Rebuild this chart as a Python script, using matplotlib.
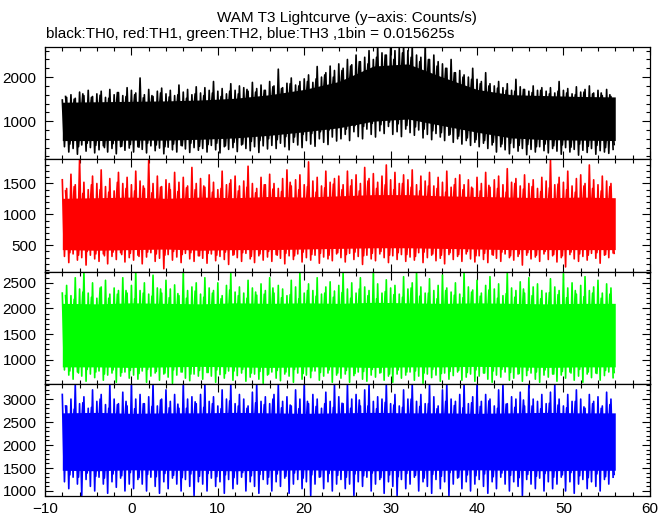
import numpy as np
import matplotlib.pyplot as plt
from matplotlib.ticker import MultipleLocator

plt.rcParams['font.family'] = ['Liberation Sans', 'DejaVu Sans']

# time grids of the read values
t_spk = np.arange(-8, 56, 0.5)   # tallest spikes, every 0.5 s
t_mid = np.arange(-8, 56, 1.0)   # shorter spikes, every 1 s
t_core = np.arange(-8, 57, 4)    # solid band, every 4 s

# TH0 (black)
th0_hi = [1480, 1540, 1600, 1520, 1660, 1580, 1700, 1560, 1620, 1680, 1540, 1720, 1600, 1650, 1580, 1760,
          1700, 1640, 1980, 1600, 1720, 1560, 1680, 1750, 1620, 1700, 1580, 1820, 1660, 1720, 1600, 1780,
          1640, 1760, 1700, 1900, 1680, 1740, 1620, 1850, 1700, 1800, 1760, 1680, 1880, 1740, 1820, 1700,
          1900, 1800, 2180, 1760, 1860, 1980, 1820, 1900, 1960, 2050, 1880, 2240, 2000, 2100, 2250, 2150,
          2300, 2200, 2400, 2280, 2500, 2350, 2450, 2600, 2400, 2700, 2550, 2500, 2700, 2600, 2650, 2700,
          2600, 2700, 2500, 2450, 2700, 2400, 2500, 2350, 2300, 2200, 2400, 2100, 2150, 2050, 2000, 2200,
          1950, 1900, 2100, 1850, 1800, 1900, 1760, 1850, 1700, 1950, 1780, 1720, 1680, 1800, 1700, 1760,
          1680, 1760, 1640, 1900, 1700, 1740, 1620, 1780, 1660, 1720, 1800, 1640, 1700, 1580, 1720, 1560]
th0_lo = [420, 300, 380, 250, 460, 320, 400, 280, 350, 440, 300, 380, 260, 420, 340, 390,
          300, 420, 360, 280, 440, 330, 390, 260, 410, 350, 300, 450, 370, 290, 400, 340,
          380, 300, 450, 350, 280, 420, 360, 400, 310, 460, 380, 330, 420, 290, 440, 370,
          450, 380, 500, 420, 350, 520, 460, 400, 560, 480, 430, 600, 520, 470, 640, 550,
          600, 700, 560, 760, 650, 600, 820, 700, 640, 780, 720, 880, 700, 760, 650, 820,
          740, 680, 800, 620, 700, 580, 720, 640, 560, 680, 520, 600, 480, 560, 450, 520,
          420, 500, 380, 460, 300, 420, 350, 260, 400, 320, 380, 240, 360, 300, 420, 330,
          280, 380, 320, 250, 400, 300, 360, 230, 340, 290, 380, 250, 330, 300, 270, 360]
th0_mhi = [1560, 1500, 1620, 1540, 1590, 1520, 1650, 1560, 1600, 1530, 1580, 1640, 1550, 1600, 1520, 1620,
           1580, 1640, 1560, 1680, 1620, 1720, 1660, 1700, 1780, 1740, 1850, 1800, 1900, 1960, 2050, 2000,
           2150, 2250, 2350, 2300, 2450, 2500, 2400, 2550, 2450, 2350, 2400, 2250, 2200, 2100, 2000, 1950,
           1850, 1800, 1750, 1700, 1680, 1720, 1650, 1700, 1620, 1680, 1640, 1600, 1660, 1620, 1640, 1600]
th0_mlo = [480, 420, 500, 450, 400, 490, 430, 470, 410, 500, 460, 420, 480, 440, 500, 430,
           470, 500, 440, 520, 480, 540, 560, 600, 580, 650, 640, 700, 720, 760, 800, 860,
           820, 900, 880, 950, 920, 980, 940, 900, 870, 820, 780, 740, 700, 660, 620, 580,
           560, 520, 480, 500, 450, 470, 420, 480, 440, 460, 410, 480, 430, 450, 400, 470]
th0_core_hi = [1430, 1440, 1450, 1460, 1480, 1520, 1600, 1720, 1900, 2250, 2300, 2000, 1720, 1600, 1580, 1560, 1550]
th0_core_lo = [560, 560, 570, 570, 590, 620, 680, 760, 850, 1000, 1050, 900, 750, 620, 580, 570, 560]

# TH1 (red)
th1_hi = [1560, 1420, 1650, 1480, 1900, 1520, 1400, 1620, 1500, 1720, 1450, 1580, 1380, 1680, 1500, 1600,
          1480, 1700, 1540, 1420, 1880, 1500, 1620, 1450, 1560, 1400, 1680, 1520, 1600, 1460, 1760, 1500,
          1580, 1440, 1640, 1520, 1400, 1700, 1480, 1560, 1620, 1460, 1540, 1780, 1500, 1420, 1600, 1480,
          1650, 1500, 1420, 1580, 1720, 1460, 1560, 1640, 1480, 1850, 1540, 1600, 1460, 1700, 1520, 1580,
          1620, 1480, 1700, 1560, 1640, 1500, 1760, 1580, 1660, 1520, 1620, 1800, 1560, 1680, 1500, 1640,
          1560, 1720, 1480, 1620, 1540, 1680, 1460, 1600, 1520, 1700, 1440, 1580, 1640, 1480, 1560, 1420,
          1600, 1500, 1680, 1440, 1560, 1620, 1480, 1740, 1520, 1580, 1460, 1640, 1500, 1560, 1420, 1600,
          1540, 1880, 1480, 1600, 1520, 1700, 1460, 1580, 1640, 1500, 1800, 1560, 1480, 1620, 1540, 1500]
th1_lo = [320, 220, 360, 260, 300, 180, 340, 280, 240, 360, 200, 320, 270, 380, 230, 300,
          260, 340, 200, 310, 380, 240, 290, 120, 350, 260, 310, 220, 370, 280, 240, 330,
          290, 210, 360, 250, 320, 270, 190, 340, 300, 240, 370, 280, 220, 330, 260, 310,
          240, 350, 290, 200, 330, 270, 360, 230, 300, 260, 340, 210, 310, 280, 250, 360,
          300, 230, 370, 270, 320, 190, 340, 280, 250, 360, 300, 220, 330, 270, 350, 240,
          310, 260, 380, 220, 300, 340, 250, 290, 200, 350, 270, 320, 240, 360, 280, 230,
          330, 270, 220, 350, 290, 240, 360, 300, 260, 320, 180, 340, 280, 310, 240, 360,
          270, 330, 230, 300, 150, 350, 280, 240, 320, 260, 370, 290, 210, 340, 300, 380]
th1_mhi = [1380, 1450, 1340, 1480, 1400, 1360, 1520, 1420, 1380, 1460, 1350, 1440, 1500, 1370, 1430, 1400,
           1460, 1360, 1420, 1500, 1380, 1440, 1350, 1480, 1410, 1370, 1520, 1400, 1450, 1360, 1430, 1490,
           1400, 1460, 1380, 1540, 1420, 1480, 1400, 1500, 1440, 1380, 1460, 1420, 1360, 1480, 1400, 1440,
           1380, 1470, 1420, 1360, 1500, 1410, 1450, 1370, 1430, 1490, 1400, 1360, 1460, 1420, 1380, 1450]
th1_mlo = [380, 340, 400, 360, 330, 390, 350, 370, 320, 390, 360, 340, 400, 350, 380, 330,
           370, 340, 390, 350, 380, 320, 360, 400, 340, 370, 330, 390, 350, 370, 340, 380,
           350, 390, 330, 370, 400, 340, 380, 350, 320, 390, 360, 340, 380, 350, 400, 330,
           370, 340, 390, 330, 360, 380, 340, 400, 350, 330, 390, 360, 340, 380, 350, 370]
th1_core_hi = [1260, 1270, 1280, 1260, 1280, 1270, 1290, 1280, 1300, 1320, 1320, 1300, 1290, 1280, 1270, 1280, 1270]
th1_core_lo = [430, 420, 430, 440, 420, 430, 430, 440, 450, 460, 460, 450, 440, 430, 430, 430, 430]

# TH2 (green)
th2_hi = [2300, 2450, 2250, 2600, 2380, 2720, 2300, 2500, 2200, 2420, 2550, 2280, 2400, 2350, 2600, 2300,
          2450, 2720, 2350, 2500, 2280, 2650, 2400, 2300, 2550, 2380, 2460, 2250, 2700, 2350, 2420, 2500,
          2280, 2600, 2400, 2350, 2500, 2250, 2450, 2680, 2320, 2420, 2300, 2550, 2400, 2260, 2480, 2350,
          2600, 2300, 2450, 2380, 2250, 2550, 2420, 2700, 2300, 2480, 2350, 2600, 2280, 2420, 2520, 2340,
          2450, 2700, 2380, 2500, 2300, 2600, 2420, 2350, 2720, 2480, 2300, 2560, 2400, 2450, 2280, 2620,
          2380, 2500, 2720, 2420, 2300, 2580, 2350, 2450, 2650, 2400, 2320, 2500, 2280, 2700, 2420, 2360,
          2550, 2300, 2450, 2620, 2380, 2480, 2250, 2700, 2400, 2350, 2520, 2300, 2600, 2420, 2480, 2350,
          2300, 2580, 2420, 2350, 2680, 2400, 2500, 2280, 2450, 2620, 2350, 2420, 2550, 2300, 2480, 2400]
th2_lo = [800, 700, 620, 760, 680, 580, 720, 650, 780, 600, 700, 740, 560, 680, 760, 640,
          700, 620, 780, 560, 680, 740, 600, 720, 660, 540, 700, 760, 640, 590, 720, 680,
          620, 750, 680, 560, 710, 640, 780, 600, 690, 740, 580, 660, 720, 620, 540, 700,
          760, 640, 590, 720, 680, 560, 740, 620, 700, 650, 780, 600, 680, 740, 560, 700,
          640, 720, 560, 690, 760, 620, 580, 700, 660, 740, 600, 680, 560, 720, 640, 700,
          760, 600, 680, 540, 720, 650, 700, 580, 740, 620, 690, 760, 600, 660, 720, 580,
          680, 740, 620, 560, 700, 660, 760, 600, 640, 720, 580, 690, 740, 620, 560, 700,
          660, 720, 580, 700, 640, 760, 600, 680, 560, 720, 650, 740, 600, 690, 760, 650]
th2_mhi = [2250, 2180, 2320, 2220, 2400, 2200, 2280, 2350, 2190, 2300, 2240, 2380, 2210, 2290, 2200, 2340,
           2220, 2300, 2190, 2360, 2250, 2200, 2320, 2280, 2400, 2210, 2270, 2190, 2350, 2240, 2300, 2220,
           2310, 2200, 2380, 2250, 2190, 2330, 2270, 2220, 2400, 2240, 2300, 2190, 2350, 2260, 2210, 2320,
           2240, 2360, 2200, 2290, 2220, 2380, 2250, 2190, 2310, 2270, 2210, 2350, 2230, 2300, 2200, 2280]
th2_mlo = [780, 740, 810, 760, 720, 800, 750, 790, 730, 810, 770, 740, 800, 760, 720, 790,
           750, 800, 730, 780, 810, 740, 770, 720, 790, 760, 810, 730, 780, 750, 800, 740,
           790, 730, 770, 810, 750, 720, 800, 760, 780, 740, 810, 730, 770, 790, 750, 800,
           740, 780, 810, 750, 730, 790, 760, 800, 720, 770, 740, 810, 760, 730, 790, 750]
th2_core_hi = [2100, 2090, 2110, 2100, 2090, 2110, 2100, 2110, 2100, 2120, 2110, 2100, 2110, 2100, 2090, 2100, 2100]
th2_core_lo = [860, 860, 850, 860, 870, 860, 850, 860, 860, 850, 860, 860, 870, 860, 850, 860, 860]

# TH3 (blue)
th3_hi = [3100, 2850, 3000, 3330, 2900, 3050, 2800, 3200, 2950, 3100, 2880, 3330, 3000, 2900, 3150, 2850,
          3330, 3000, 3100, 2900, 3050, 3330, 2850, 3000, 3200, 2950, 3100, 2800, 3330, 3000, 3050, 2900,
          3100, 3330, 2950, 3050, 2850, 3200, 3000, 3330, 2900, 3100, 3000, 2850, 3150, 3330, 2950, 3050,
          2900, 3100, 3330, 2950, 3050, 2850, 3200, 3000, 3330, 2900, 3100, 3000, 2800, 3150, 2950, 3330,
          3050, 2900, 3330, 3000, 3100, 2850, 3200, 3330, 2950, 3050, 3000, 3330, 2900, 3100, 2850, 3200,
          3000, 3330, 2950, 3100, 2900, 3330, 3050, 2850, 3200, 3330, 3000, 2950, 3100, 3330, 2900, 3050,
          3330, 2950, 3100, 3000, 2850, 3200, 3330, 2900, 3050, 3000, 3150, 2850, 3330, 3000, 2950, 3100,
          2900, 3150, 3330, 3000, 2850, 3100, 2950, 3200, 3000, 2800, 3100, 2950, 3050, 2850, 3150, 3000]
th3_lo = [1200, 1050, 1300, 1150, 900, 1250, 1100, 1000, 1300, 1150, 950, 1200, 1080, 1280, 1000, 1150,
          1050, 1250, 1150, 1000, 1300, 1100, 950, 1200, 1050, 1280, 1150, 1000, 1250, 1100, 900, 1200,
          1150, 1000, 1280, 1100, 1200, 950, 1250, 1050, 1150, 1300, 1000, 1200, 1100, 950, 1250, 1150,
          1000, 1200, 1100, 1280, 950, 1150, 1250, 1050, 1200, 900, 1150, 1300, 1050, 1200, 1000, 1150,
          1250, 1050, 1150, 900, 1200, 1100, 1300, 1000, 1150, 1250, 950, 1200, 1100, 900, 1250, 1050,
          1150, 1300, 1000, 1200, 1100, 950, 1250, 1050, 1200, 900, 1150, 1280, 1050, 1200, 1000, 1150,
          1250, 1100, 950, 1200, 1050, 1300, 1150, 1000, 1200, 1100, 900, 1250, 1150, 1050, 1280, 1000,
          1200, 1050, 1150, 1300, 1000, 1200, 950, 1150, 1250, 1050, 1200, 1100, 1000, 1250, 1150, 1300]
th3_mhi = [2850, 2780, 2920, 2820, 3000, 2800, 2880, 2950, 2790, 2900, 2840, 2980, 2810, 2890, 2800, 2940,
           2820, 2900, 2790, 2960, 2850, 2800, 2920, 2880, 3000, 2810, 2870, 2790, 2950, 2840, 2900, 2820,
           2910, 2800, 2980, 2850, 2790, 2930, 2870, 2820, 3000, 2840, 2900, 2790, 2950, 2860, 2810, 2920,
           2840, 2960, 2800, 2890, 2820, 2980, 2850, 2790, 2910, 2870, 2810, 2950, 2830, 2900, 2800, 2880]
th3_mlo = [1350, 1300, 1390, 1320, 1280, 1370, 1330, 1400, 1290, 1360, 1310, 1380, 1340, 1290, 1370, 1320,
           1380, 1310, 1350, 1290, 1400, 1330, 1360, 1300, 1370, 1320, 1390, 1280, 1350, 1310, 1380, 1340,
           1300, 1370, 1330, 1390, 1290, 1350, 1310, 1380, 1340, 1280, 1360, 1320, 1400, 1300, 1350, 1330,
           1370, 1310, 1390, 1340, 1290, 1360, 1320, 1380, 1300, 1350, 1400, 1330, 1290, 1370, 1310, 1360]
th3_core_hi = [2700, 2710, 2690, 2700, 2700, 2710, 2700, 2690, 2700, 2710, 2700, 2700, 2690, 2700, 2710, 2700, 2700]
th3_core_lo = [1450, 1440, 1460, 1450, 1450, 1440, 1450, 1460, 1450, 1440, 1450, 1450, 1460, 1450, 1440, 1450, 1450]

panels = [
    (th0_hi, th0_lo, th0_mhi, th0_mlo, th0_core_hi, th0_core_lo, 'black', (136, 2682), 1000, 200),
    (th1_hi, th1_lo, th1_mhi, th1_mlo, th1_core_hi, th1_core_lo, '#ff0000', (76, 1892), 500, 100),
    (th2_hi, th2_lo, th2_mhi, th2_mlo, th2_core_hi, th2_core_lo, '#00ff00', (531, 2721), 500, 100),
    (th3_hi, th3_lo, th3_mhi, th3_mlo, th3_core_hi, th3_core_lo, '#0000ff', (891, 3333), 500, 100),
]

fig, axes = plt.subplots(4, 1, sharex=True, figsize=(6.72, 5.15), dpi=100)
fig.subplots_adjust(left=0.067, right=0.967, bottom=0.0369, top=0.9087, hspace=0)

for ax, (hi, lo, mhi, mlo, chi, clo, col, ylim, major, minor) in zip(axes, panels):
    ax.fill_between(t_core, clo, chi, color=col, lw=0)
    # high / low samples alternate inside each bin
    x1 = np.ravel(np.column_stack([t_spk, t_spk + 0.25]))
    y1 = np.ravel(np.column_stack([hi, lo]))
    ax.plot(x1, y1, color=col, lw=1.2)
    x2 = np.ravel(np.column_stack([t_mid + 0.375, t_mid + 0.875]))
    y2 = np.ravel(np.column_stack([mhi, mlo]))
    ax.plot(x2, y2, color=col, lw=1.2)
    ax.set_ylim(*ylim)
    ax.yaxis.set_major_locator(MultipleLocator(major))
    ax.yaxis.set_minor_locator(MultipleLocator(minor))
    ax.xaxis.set_major_locator(MultipleLocator(10))
    ax.xaxis.set_minor_locator(MultipleLocator(2))
    ax.tick_params(which='both', direction='in', top=True, right=True, width=0.8)
    ax.tick_params(which='major', length=5.8, labelsize=11, pad=6)
    ax.tick_params(which='minor', length=2.9)
    for s in ax.spines.values():
        s.set_linewidth(0.9)

axes[-1].set_xlim(-10, 60)
axes[-1].tick_params(axis='x', pad=4)

fig.text(0.517, 0.957, "WAM T3 Lightcurve (y\u2212axis: Counts/s)", ha='center', va='baseline', fontsize=11)
fig.text(0.068, 0.926, "black:TH0, red:TH1, green:TH2, blue:TH3 ,1bin = 0.015625s",
         ha='left', va='baseline', fontsize=11)

plt.savefig("out.png", dpi=100)
